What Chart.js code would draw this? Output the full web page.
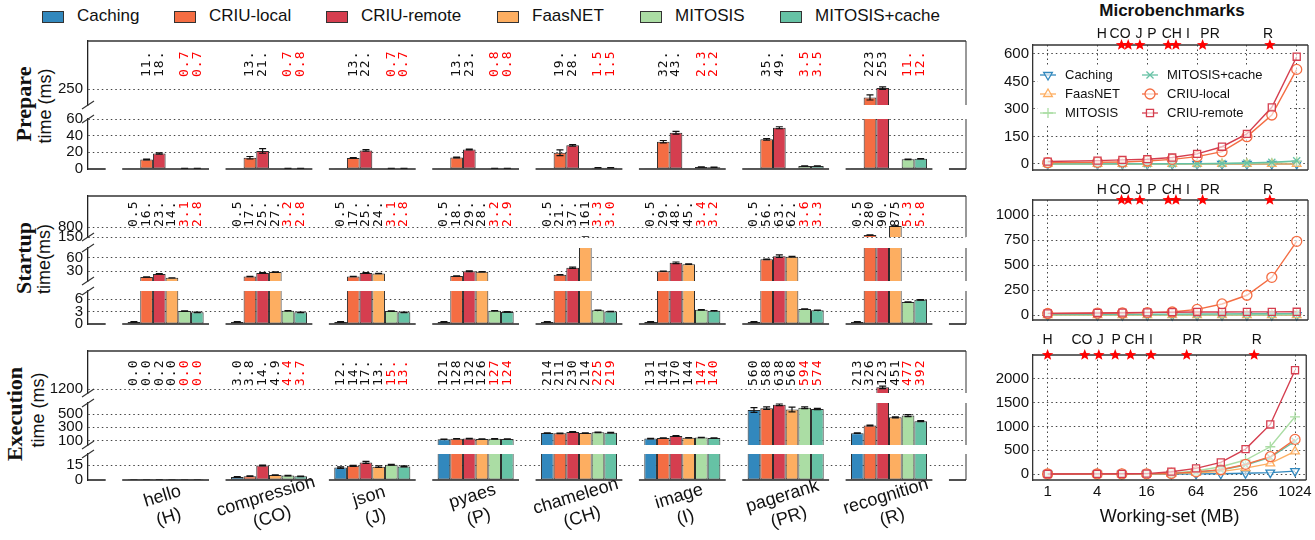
<!DOCTYPE html>
<html>
<head>
<meta charset="utf-8">
<title>Prepare / Startup / Execution time</title>
<script src="https://cdn.jsdelivr.net/npm/chart.js@4.4.1/dist/chart.umd.min.js"></script>
<style>
  body { margin: 0; width: 1315px; height: 540px; background: #fff; position: relative; overflow: hidden;
         font-family: "Liberation Sans", Arial, sans-serif; color: #111; }
  .lg-box { position: absolute; top: 11px; width: 20px; height: 10px; border: 1px solid #333; }
  .lg-txt { position: absolute; top: 6px; font-size: 17px; line-height: 20px; white-space: nowrap; }
  .ytitle { position: absolute; white-space: nowrap; transform: translate(-50%, -50%) rotate(-90deg); line-height: 1; }
  .yt-main { font-family: "Liberation Serif", "DejaVu Serif", serif; font-weight: bold; font-size: 22px; }
  .yt-sub { font-size: 18px; }
  #micro-title { position: absolute; left: 1172px; top: 1px; transform: translateX(-50%); font-weight: bold; font-size: 17px; line-height: 20px; }
</style>
</head>
<body>
<div id="micro-title">Microbenchmarks</div>
<script>
const SANS = '"Liberation Sans", Arial, sans-serif';
Chart.defaults.font.family = SANS;

const categories = ['hello', 'compression', 'json', 'pyaes', 'chameleon', 'image', 'pagerank', 'recognition'];
const shortNames = ['H', 'CO', 'J', 'P', 'CH', 'I', 'PR', 'R'];
const seriesNames = ['Caching', 'CRIU-local', 'CRIU-remote', 'FaasNET', 'MITOSIS', 'MITOSIS+cache'];
const seriesColors = ['#3288bd', '#f46d43', '#d53e4f', '#fdae61', '#abdda4', '#66c2a5'];
const textColors = ['#111', '#111', '#111', '#111', '#ff0000', '#ff0000'];

// ---- Prepare time (ms), rows follow seriesNames
const prepareValues = [
  [0.2, 0.2, 0.2, 0.2, 0.2, 0.2, 0.2, 0.2],
  [11.4, 13.5, 13.2, 13.8, 19.5, 32.8, 35.6, 223],
  [18.5, 21.7, 22.3, 23.4, 28.4, 43.5, 49.5, 253],
  [null, null, null, null, null, null, null, null],
  [0.7, 0.7, 0.7, 0.8, 1.5, 2.3, 3.5, 11.6],
  [0.7, 0.8, 0.7, 0.8, 1.5, 2.2, 3.5, 12.3]
];
const prepareErr = [
  null,
  [0.6, 1.5, 0.5, 0.6, 3.5, 1.4, 1.0, 8],
  [0.8, 2.8, 1.0, 0.6, 1.0, 1.6, 1.2, 4],
  null,
  [0.1, 0.1, 0.1, 0.1, 0.1, 0.2, 0.2, 0.3],
  [0.1, 0.1, 0.1, 0.1, 0.1, 0.2, 0.2, 0.3]
];
const prepareText = [
  null,
  ['11.', '13.', '13.', '13.', '19.', '32.', '35.', '223'],
  ['18.', '21.', '22.', '23.', '28.', '43.', '49.', '253'],
  null,
  ['0.7', '0.7', '0.7', '0.8', '1.5', '2.3', '3.5', '11.'],
  ['0.7', '0.8', '0.7', '0.8', '1.5', '2.2', '3.5', '12.']
];
const prepareTicks = [[250], [0, 20, 40, 60]];

// ---- Startup time (ms)
const startupValues = [
  [0.5, 0.5, 0.5, 0.5, 0.5, 0.5, 0.5, 0.5],
  [16.5, 17.5, 17.5, 18.5, 21.5, 29.5, 56.5, 280],
  [23.5, 25.5, 25.5, 29.5, 37.5, 48.5, 63.5, 90.5],
  [14.5, 27.5, 24.5, 28.5, 161, 45.5, 62.5, 875],
  [3.1, 3.2, 3.1, 3.2, 3.3, 3.4, 3.6, 5.3],
  [2.8, 2.8, 2.8, 2.9, 3.0, 3.2, 3.3, 5.8]
];
const startupErr = [
  [0.05, 0.05, 0.05, 0.05, 0.05, 0.05, 0.05, 0.05],
  [0.3, 0.4, 0.4, 0.4, 0.5, 0.5, 0.6, 5],
  [0.5, 0.8, 1.0, 0.8, 1.5, 1.8, 3.0, 3],
  [0.3, 0.4, 0.4, 0.4, 3, 0.6, 0.6, 10],
  [0.05, 0.05, 0.05, 0.05, 0.05, 0.05, 0.05, 0.05],
  [0.05, 0.05, 0.05, 0.05, 0.05, 0.05, 0.05, 0.05]
];
const startupText = [
  ['0.5', '0.5', '0.5', '0.5', '0.5', '0.5', '0.5', '0.5'],
  ['16.', '17.', '17.', '18.', '21.', '29.', '56.', '280'],
  ['23.', '25.', '25.', '29.', '37.', '48.', '63.', '90.'],
  ['14.', '27.', '24.', '28.', '161', '45.', '62.', '875'],
  ['3.1', '3.2', '3.1', '3.2', '3.3', '3.4', '3.6', '5.3'],
  ['2.8', '2.8', '2.8', '2.9', '3.0', '3.2', '3.3', '5.8']
];
const startupTicks = [[150, 800], [30, 60], [0, 3, 6]];

// ---- Execution time (ms)
const executionValues = [
  [0.02, 3.0, 12.4, 121, 214, 131, 560, 213],
  [0.02, 3.8, 14.2, 128, 211, 141, 588, 326],
  [0.2, 14.5, 17.6, 132, 230, 170, 638, 1230],
  [0.02, 4.9, 13.3, 126, 214, 144, 568, 451],
  [0.02, 4.4, 15.2, 127, 225, 147, 594, 477],
  [0.02, 3.7, 13.6, 124, 219, 140, 574, 392]
];
const executionErr = [
  [0, 0.3, 0.8, 3, 5, 3, 35, 5],
  [0, 0.3, 0.5, 3, 4, 3, 20, 6],
  [0, 0.5, 1.0, 4, 6, 5, 12, 20],
  [0, 0.3, 0.8, 3, 4, 3, 35, 8],
  [0, 0.3, 0.4, 3, 4, 3, 12, 15],
  [0, 0.3, 0.5, 3, 4, 3, 10, 8]
];
const executionText = [
  ['0.0', '3.0', '12.', '121', '214', '131', '560', '213'],
  ['0.0', '3.8', '14.', '128', '211', '141', '588', '326'],
  ['0.2', '14.', '17.', '132', '230', '170', '638', '123'],
  ['0.0', '4.9', '13.', '126', '214', '144', '568', '451'],
  ['0.0', '4.4', '15.', '127', '225', '147', '594', '477'],
  ['0.0', '3.7', '13.', '124', '219', '140', '574', '392']
];
const executionTicks = [[1200], [100, 300, 500], [0, 15]];

// ---- Microbenchmarks: time (ms) vs working-set (MB)
const workingSet = [1, 4, 8, 16, 32, 64, 128, 256, 512, 1024];
const workingSetTicks = [1, 4, 16, 64, 256, 1024];
const microPrepare = [
  [0, 0, 0, 0, 0, 0, 0, 0, 0, 0],
  [7, 9, 11, 16, 25, 40, 67, 149, 267, 516],
  [13, 18, 22, 26, 35, 55, 94, 164, 309, 585],
  [0, 0, 0, 0, 0, 0, 0, 0, 0, 0],
  [0.5, 0.6, 0.7, 0.8, 1, 1.5, 2.5, 4, 7, 14],
  [0.5, 0.6, 0.7, 0.9, 1.1, 1.6, 2.8, 5, 9, 17]
];
const microStartup = [
  [0.5, 0.5, 0.5, 0.5, 0.5, 0.5, 0.5, 0.5, 0.5, 0.5],
  [17, 20, 22, 26, 32, 58, 112, 199, 378, 737],
  [18, 22, 25, 28, 30, 32, 32, 33, 33, 34],
  [1, 1, 1, 1, 1, 1, 1, 1, 1, 1],
  [3, 3, 3, 3.1, 3.2, 3.4, 3.6, 4, 4.5, 5.5],
  [8, 9, 10, 10, 11, 12, 13, 14, 15, 16]
];
const microExecution = [
  [0, 0, 0, 0, 1, 2, 5, 15, 30, 60],
  [0, 0, 1, 3, 12, 45, 90, 204, 364, 729],
  [1, 2, 4, 8, 49, 119, 245, 525, 1043, 2185],
  [0, 0, 0, 1, 5, 25, 50, 125, 225, 478],
  [0, 0, 1, 3, 15, 63, 153, 294, 574, 1204],
  [0, 0, 1, 2, 10, 40, 85, 190, 352, 690]
];
const microPrepTicks = [0, 150, 300, 450, 600];
const microStartTicks = [0, 250, 500, 750, 1000];
const microExecTicks = [0, 500, 1000, 1500, 2000];
// working-set (MB) of each benchmark, top markers
const microLabelPos = [4.5, 7.5, 12.7, 18.2, 31.6, 49.6, 91.7, 461];
const microStarPos = [7.8, 9.4, 13.0, 28.6, 35.5, 74.6, 485];
const execLabelPos = [1.0, 2.62, 4.37, 6.82, 11.4, 18.1, 57.6, 352];
const execStarPos = [1.0, 2.83, 4.2, 6.64, 10.2, 18.1, 49.2, 326];

const pointStyles = ['triangle', 'circle', 'rect', 'triangle', 'cross', 'crossRot'];
const pointRot = [180, 0, 0, 0, 0, 0];
const drawOrder = [5, 1, 0, 4, 3, 2];

// ---------- helpers
function addCanvas(x, y, w, h) {
  const c = document.createElement('canvas');
  c.width = w; c.height = h;
  c.style.cssText = 'position:absolute;left:' + x + 'px;top:' + y + 'px;width:' + w + 'px;height:' + h + 'px';
  document.body.appendChild(c);
  return c;
}
function line(ctx, x1, y1, x2, y2) {
  ctx.beginPath(); ctx.moveTo(x1, y1); ctx.lineTo(x2, y2); ctx.stroke();
}
function star(ctx, x, y, r1, r2) {
  ctx.beginPath();
  for (let k = 0; k < 10; k++) {
    const r = k % 2 ? r2 : r1;
    const a = -Math.PI / 2 + k * Math.PI / 5;
    ctx.lineTo(x + r * Math.cos(a), y + r * Math.sin(a));
  }
  ctx.closePath(); ctx.fill();
}
function addText(cls, txt, x, y) {
  const d = document.createElement('div');
  d.className = cls; d.textContent = txt;
  d.style.left = x + 'px'; d.style.top = y + 'px';
  document.body.appendChild(d);
}

// ---------- legend
const legendX = [42, 174, 326, 497, 640, 780];
seriesNames.forEach((n, s) => {
  const b = document.createElement('div');
  b.className = 'lg-box'; b.style.left = legendX[s] + 'px'; b.style.background = seriesColors[s];
  document.body.appendChild(b);
  addText('lg-txt', n, legendX[s] + 35, 6);
});

// ---------- y titles
addText('ytitle yt-main', 'Prepare', 24, 104);
addText('ytitle yt-sub', 'time (ms)', 45, 106);
addText('ytitle yt-main', 'Startup', 24, 258);
addText('ytitle yt-sub', 'time(ms)', 44, 259);
addText('ytitle yt-main', 'Execution', 15, 414);
addText('ytitle yt-sub', 'time (ms)', 38, 410);

// ---------- left broken-axis bar panels
const PAD = 12;
const X_MIN = -0.751, X_MAX = 7.745;

const panels = [
  { values: prepareValues, err: prepareErr, text: prepareText, textOffset: 36,
    segs: [{ top: 39, bottom: 107, min: 199, max: 403, ticks: prepareTicks[0] },
           { top: 117, bottom: 171, min: 0, max: 60, ticks: prepareTicks[1] }] },
  { values: startupValues, err: startupErr, text: startupText, textOffset: 31,
    segs: [{ top: 194, bottom: 239.3, min: 150, max: 2827, ticks: startupTicks[0] },
           { top: 246, bottom: 283.3, min: 7.4, max: 82, ticks: startupTicks[1] },
           { top: 289, bottom: 326, min: 0, max: 7.93, ticks: startupTicks[2] }] },
  { values: executionValues, err: executionErr, text: executionText, textOffset: 35, xLabels: true,
    segs: [{ top: 349, bottom: 395, min: 1145, max: 1779, ticks: executionTicks[0] },
           { top: 401, bottom: 446.7, min: 35, max: 665, ticks: executionTicks[1] },
           { top: 452.3, bottom: 480, min: 0, max: 26, ticks: executionTicks[2] }] }
];

function segmentPlugin(panel, first, last) {
  return {
    id: 'segment',
    afterDatasetsDraw(chart) {
      const ctx = chart.ctx, a = chart.chartArea;
      const xs = chart.scales.x, ys = chart.scales.y;
      // error bars
      ctx.save();
      ctx.beginPath(); ctx.rect(a.left, a.top - 1, a.right - a.left, a.bottom - a.top + 1); ctx.clip();
      ctx.strokeStyle = '#111'; ctx.lineWidth = 1.2;
      panel.err.forEach((row, s) => {
        if (!row) return;
        const meta = chart.getDatasetMeta(s);
        row.forEach((e, i) => {
          const v = panel.values[s][i];
          if (v == null || e == null) return;
          const x = meta.data[i].x;
          const y1 = ys.getPixelForValue(v + e), y2 = ys.getPixelForValue(Math.max(0, v - e));
          ctx.beginPath();
          ctx.moveTo(x, y1); ctx.lineTo(x, y2);
          ctx.moveTo(x - 3.5, y1); ctx.lineTo(x + 3.5, y1);
          ctx.moveTo(x - 3.5, y2); ctx.lineTo(x + 3.5, y2);
          ctx.stroke();
        });
      });
      ctx.restore();

      ctx.save();
      ctx.lineWidth = 1.5;
      ctx.strokeStyle = '#777';
      line(ctx, a.right, a.top, a.right, a.bottom);
      ctx.strokeStyle = '#333';
      if (first) line(ctx, a.left, a.top, a.right, a.top);
      // break marks on the left axis
      ctx.lineWidth = 1.2;
      if (!first) line(ctx, a.left - 6, a.top + 4, a.left + 6, a.top - 4);
      if (!last) line(ctx, a.left - 6, a.bottom + 4, a.left + 6, a.bottom - 4);
      if (last) {
        ctx.lineWidth = 1.6; ctx.strokeStyle = '#222';
        const slot = xs.getPixelForValue(1) - xs.getPixelForValue(0);
        for (let i = -1; i <= categories.length; i++) {
          const c = xs.getPixelForValue(i);
          const x0 = Math.max(a.left, c - 0.42 * slot), x1 = Math.min(a.right, c + 0.42 * slot);
          if (x1 > x0) line(ctx, x0, a.bottom, x1, a.bottom);
        }
      }
      // value labels
      if (first) {
        ctx.font = '13px "DejaVu Sans Mono", "Liberation Mono", monospace';
        if ('letterSpacing' in ctx) ctx.letterSpacing = '1px';
        ctx.textAlign = 'left'; ctx.textBaseline = 'middle';
        panel.text.forEach((row, s) => {
          if (!row) return;
          row.forEach((t, i) => {
            const x = xs.getPixelForValue(i) + (s - 2.5) * (0.736 * (xs.getPixelForValue(1) - xs.getPixelForValue(0)) / 6);
            ctx.save();
            ctx.translate(x, a.top + panel.textOffset);
            ctx.rotate(-Math.PI / 2);
            ctx.fillStyle = textColors[s];
            ctx.fillText(t, 0, 0);
            ctx.restore();
          });
        });
        if ('letterSpacing' in ctx) ctx.letterSpacing = '0px';
      }
      // category labels
      if (last && panel.xLabels) {
        ctx.font = '18px ' + SANS; ctx.fillStyle = '#111';
        ctx.textAlign = 'center'; ctx.textBaseline = 'middle';
        categories.forEach((c, i) => {
          ctx.save();
          ctx.translate(xs.getPixelForValue(i), a.bottom + 27);
          ctx.rotate(-17 * Math.PI / 180);
          ctx.fillText(c, 0, -11);
          ctx.fillText('(' + shortNames[i] + ')', 0, 11);
          ctx.restore();
        });
      }
      ctx.restore();
    }
  };
}

panels.forEach(panel => {
  panel.segs.forEach((seg, k) => {
    const first = k === 0, last = k === panel.segs.length - 1;
    const padBottom = last && panel.xLabels ? 540 - seg.bottom : PAD;
    const cv = addCanvas(0, seg.top - PAD, 975, Math.round(seg.bottom - seg.top + PAD + padBottom));
    new Chart(cv, {
      type: 'bar',
      data: {
        datasets: seriesNames.map((name, s) => ({
          label: name,
          data: panel.values[s].map((v, i) => ({ x: i, y: v })),
          backgroundColor: seriesColors[s],
          borderColor: '#2b2b2b',
          borderWidth: 1,
          borderSkipped: false,
          categoryPercentage: 0.736,
          barPercentage: 1,
          clip: 0
        }))
      },
      options: {
        responsive: false, animation: false, events: [],
        layout: { padding: { left: 0, right: 9, top: PAD, bottom: padBottom } },
        plugins: { legend: { display: false }, tooltip: { enabled: false } },
        scales: {
          x: { type: 'linear', min: X_MIN, max: X_MAX, offset: false, display: false,
               afterBuildTicks: s => { s.ticks = categories.map((c, i) => ({ value: i })); } },
          y: { min: seg.min, max: seg.max,
               afterBuildTicks: s => { s.ticks = seg.ticks.map(v => ({ value: v })); },
               afterFit: s => { s.width = 88; },
               ticks: { font: { size: 15 }, color: '#111', padding: 5, autoSkip: false,
                        callback: v => String(v) },
               grid: { color: c => (c.tick && c.tick.value === 0) ? 'rgba(0,0,0,0)' : '#444', lineWidth: 1, drawTicks: false },
               border: { display: true, color: '#222', width: 1.3, dash: [1.5, 3] } }
        }
      },
      plugins: [segmentPlugin(panel, first, last)]
    });
  });
});

// ---------- right: microbenchmark line charts
const micro = [
  { values: microPrepare, ticks: microPrepTicks, top: 45, bottom: 170, cTop: 0, cH: 185, min: -33, max: 649,
    labelPos: microLabelPos, starPos: microStarPos, labelGap: 11, legend: true },
  { values: microStartup, ticks: microStartTicks, top: 200, bottom: 325, cTop: 178, cH: 155, min: -48, max: 1150,
    labelPos: microLabelPos, starPos: microStarPos, labelGap: 10 },
  { values: microExecution, ticks: microExecTicks, top: 355, bottom: 480, cTop: 325, cH: 215, min: -126, max: 2505,
    labelPos: execLabelPos, starPos: execStarPos, labelGap: 15, xAxis: true }
];
const legendCols = [[0, 3, 4], [5, 1, 2]];

function drawMarker(ctx, s, x, y) {
  ctx.strokeStyle = seriesColors[s]; ctx.fillStyle = 'rgba(255,255,255,0.6)'; ctx.lineWidth = 1.3;
  if (Chart.helpers && Chart.helpers.drawPoint) {
    Chart.helpers.drawPoint(ctx, { pointStyle: pointStyles[s], rotation: pointRot[s], radius: 5, borderWidth: 1.3 }, x, y);
  } else {
    ctx.beginPath(); ctx.arc(x, y, 5, 0, Math.PI * 2); ctx.stroke();
  }
}

function microPlugin(m) {
  return {
    id: 'micro',
    beforeDatasetsDraw(chart) {
      if (!m.legend) return;
      const ctx = chart.ctx, a = chart.chartArea;
      ctx.save();
      ctx.fillStyle = '#fff';
      ctx.fillRect(a.left + 5, a.top + 20, 252, 58);
      ctx.font = '13px ' + SANS; ctx.textBaseline = 'middle'; ctx.textAlign = 'left';
      legendCols.forEach((col, c) => {
        col.forEach((s, r) => {
          const x = a.left + 15 + c * 102, y = a.top + 30 + r * 19;
          ctx.strokeStyle = seriesColors[s]; ctx.lineWidth = 1.3;
          line(ctx, x - 8, y, x + 8, y);
          drawMarker(ctx, s, x, y);
          ctx.fillStyle = '#111';
          ctx.fillText(seriesNames[s], x + 17, y);
        });
      });
      ctx.restore();
    },
    afterDatasetsDraw(chart) {
      const ctx = chart.ctx, a = chart.chartArea, xs = chart.scales.x;
      ctx.save();
      ctx.strokeStyle = '#333'; ctx.lineWidth = 1.3;
      line(ctx, a.left, a.top, a.right, a.top);
      line(ctx, a.right, a.top, a.right, a.bottom);
      line(ctx, a.left, a.bottom, a.right, a.bottom);
      ctx.font = '14px ' + SANS; ctx.fillStyle = '#111';
      ctx.textAlign = 'center'; ctx.textBaseline = 'middle';
      m.labelPos.forEach((p, k) => ctx.fillText(shortNames[k], xs.getPixelForValue(p), a.top - m.labelGap));
      ctx.fillStyle = '#ff0000';
      m.starPos.forEach(p => star(ctx, xs.getPixelForValue(p), a.top, 6, 2.6));
      ctx.restore();
    }
  };
}

micro.forEach(m => {
  const xH = m.xAxis ? 60 : 0;
  const cv = addCanvas(980, m.cTop, 335, m.cH);
  new Chart(cv, {
    type: 'line',
    data: {
      datasets: seriesNames.map((name, s) => ({
        label: name,
        data: workingSet.map((w, i) => ({ x: w, y: m.values[s][i] })),
        borderColor: seriesColors[s],
        backgroundColor: 'rgba(255,255,255,0.6)',
        pointBorderColor: seriesColors[s],
        pointBackgroundColor: 'rgba(255,255,255,0.6)',
        borderWidth: 1.4,
        pointRadius: 5,
        pointBorderWidth: 1.3,
        pointStyle: pointStyles[s],
        pointRotation: pointRot[s],
        tension: 0,
        order: drawOrder[s],
        clip: 6
      }))
    },
    options: {
      responsive: false, animation: false, events: [],
      layout: { padding: { left: 0, right: 7, top: m.top - m.cTop, bottom: m.cTop + m.cH - m.bottom - xH } },
      plugins: { legend: { display: false }, tooltip: { enabled: false } },
      scales: {
        x: { type: 'logarithmic', min: 0.664, max: 1402,
             afterBuildTicks: s => { s.ticks = workingSetTicks.map(v => ({ value: v })); },
             afterFit: s => { s.height = xH; },
             ticks: { display: !!m.xAxis, font: { size: 15 }, color: '#111', padding: 3, maxRotation: 0,
                      autoSkip: false, callback: v => String(v) },
             title: { display: !!m.xAxis, text: 'Working-set (MB)', font: { size: 18 }, color: '#111',
                      padding: { top: 0, bottom: 12 } },
             grid: { color: '#444', lineWidth: 1, drawTicks: false },
             border: { display: false, dash: [1.5, 3] } },
        y: { min: m.min, max: m.max,
             afterBuildTicks: s => { s.ticks = m.ticks.map(v => ({ value: v })); },
             afterFit: s => { s.width = 53; },
             ticks: { font: { size: 15 }, color: '#111', padding: 4, autoSkip: false,
                      callback: v => String(v) },
             grid: { color: '#444', lineWidth: 1, drawTicks: false },
             border: { display: true, color: '#333', width: 1.3, dash: [1.5, 3] } }
      }
    },
    plugins: [microPlugin(m)]
  });
});
</script>
</body>
</html>
